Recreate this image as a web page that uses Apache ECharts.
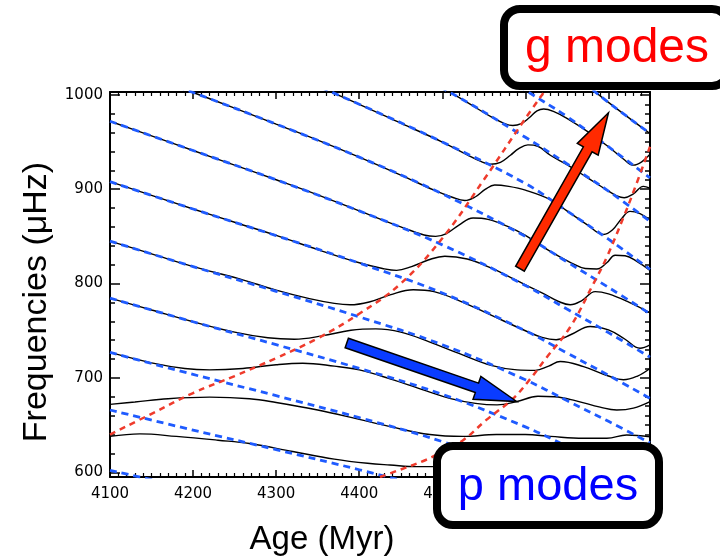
<!DOCTYPE html>
<html>
<head>
<meta charset="utf-8">
<script src="https://cdn.jsdelivr.net/npm/echarts@6/dist/echarts.min.js"></script>
<style>
  html, body { margin: 0; padding: 0; background: #fff; }
  #chart { width: 720px; height: 560px; }
</style>
</head>
<body>
<div id="chart"></div>
<script>
// pure p modes (blue dashed), frequency at each age of pAges
const pAges = [4100, 4200, 4300, 4400, 4500, 4600, 4650, 4700, 4750]
const pMode1 = [1284, 1243, 1203, 1162, 1117, 1060, 1027, 992, 959]
const pMode2 = [1222, 1183, 1145, 1106, 1063, 1005, 977, 945, 912]
const pMode3 = [1160, 1123, 1087, 1050, 1007, 955, 927, 898, 866]
const pMode4 = [1098, 1063, 1028, 990, 950, 906, 877, 847, 815]
const pMode5 = [1035.6, 1002.5, 969, 934, 895, 850, 823, 796, 768]
const pMode6 = [972, 941, 910, 877, 841, 798, 773, 748, 722]
const pMode7 = [908, 879, 850.8, 821.7, 790, 750, 726.4, 702.8, 678.3]
const pMode8 = [845, 818, 791.8, 764.7, 735.2, 698, 676, 654, 631.2]
const pMode9 = [784.6, 759.5, 735.2, 710.1, 682.6, 648.1, 627.7, 607.3, 586.1]
const pMode10 = [727, 703.7, 681.2, 657.9, 632.5, 600.5, 581.6, 562.7, 543.1]
const pMode11 = [666, 644.7, 624, 602.7, 579.4, 550.1, 532.8, 515.5, 497.5]
const pMode12 = [602, 582.7, 564.1, 544.8, 523.7, 497.3, 481.6, 465.9, 449.7]

// pure g modes (red dashed), [age, frequency]
const gMode1 = [[4100, 640], [4150, 662], [4200, 684], [4250, 702], [4300, 721], [4350, 742], [4400, 768],
  [4450, 800], [4500, 848], [4550, 910], [4600, 975], [4625, 1006]]
const gMode2 = [[4425, 595], [4450, 603], [4480, 613], [4500, 622], [4525, 634], [4553, 655.5], [4585, 678],
  [4605, 698], [4625, 721], [4654, 754], [4682, 800], [4698, 828], [4718, 870], [4730, 897], [4750, 945]]

// computed mixed modes (black), [age, frequency]
const mixedA = [[4650, 1027], [4700, 992], [4750, 959]]
const mixedB = [[4490, 1015], [4500, 1008], [4530, 992], [4560, 976], [4575, 969.5], [4585, 967.5], [4595, 969.5],
  [4605, 976], [4614, 983], [4622, 985], [4635, 982], [4650, 975], [4675, 961], [4700, 945], [4718, 932],
  [4730, 925.5], [4740, 929], [4750, 937]]
const mixedC = [[4350, 1009], [4400, 990], [4450, 970], [4500, 950], [4530, 936.5], [4545, 930], [4558, 926.5],
  [4570, 928.5], [4582, 936], [4592, 943], [4603, 947], [4615, 945.5], [4630, 936], [4650, 926], [4675, 912],
  [4700, 898], [4710, 893], [4719, 891], [4730, 895], [4742, 903], [4750, 901]]
const mixedD = [[4150, 1019], [4200, 1002.5], [4250, 986], [4300, 969], [4350, 952], [4400, 934], [4450, 915],
  [4490, 899], [4512, 891.5], [4527, 888], [4540, 892], [4552, 900], [4563, 904.5], [4580, 903], [4600, 899],
  [4630, 889], [4650, 877], [4675, 862], [4694, 852], [4705, 857], [4716, 869], [4726, 876.5], [4738, 874],
  [4750, 867]]
const mixedE = [[4100, 972], [4150, 956.5], [4200, 941], [4250, 925.5], [4300, 910], [4350, 894], [4400, 877],
  [4450, 860], [4478, 851.5], [4492, 850], [4505, 853], [4520, 862], [4537, 869.5], [4555, 868], [4580, 860],
  [4600, 851], [4630, 834], [4655, 822], [4672, 816], [4686, 815.5], [4698, 822], [4708, 830], [4720, 829.5],
  [4735, 823], [4750, 814]]
const mixedF = [[4100, 908], [4150, 893.5], [4200, 879], [4250, 865], [4300, 851], [4350, 836], [4400, 822],
  [4428, 816], [4445, 814], [4463, 818], [4483, 825], [4503, 829], [4530, 826], [4560, 816], [4590, 803],
  [4620, 790], [4640, 781], [4654, 777.5], [4668, 782], [4684, 791.5], [4700, 789], [4725, 780], [4750, 769]]
const mixedG = [[4100, 845], [4150, 831.5], [4200, 818], [4256, 805], [4300, 793], [4340, 784], [4370, 779],
  [4389, 777.5], [4412, 780.5], [4437, 788], [4465, 793.5], [4490, 791.5], [4520, 782], [4560, 766],
  [4600, 750], [4620, 743], [4637, 740.5], [4655, 746], [4678, 754.5], [4700, 751], [4720, 741],
  [4738, 731.5], [4750, 735]]
const mixedH = [[4100, 784.6], [4150, 772], [4200, 759.5], [4250, 748.5], [4290, 742.5], [4322, 741],
  [4355, 744.5], [4390, 750.5], [4420, 752], [4450, 748.5], [4485, 738], [4520, 726], [4560, 713],
  [4590, 708.5], [4612, 708], [4628, 712.5], [4642, 717.4], [4670, 712], [4700, 702], [4718, 698],
  [4735, 702], [4750, 710]]
const mixedI = [[4100, 727], [4150, 716], [4190, 710], [4220, 708.5], [4260, 710], [4300, 714], [4332, 715.6],
  [4370, 712.5], [4400, 708.5], [4437, 699], [4485, 685], [4510, 678], [4540, 673], [4566, 671.4],
  [4590, 675], [4615, 680.5], [4635, 680], [4660, 676], [4690, 669], [4710, 666], [4730, 668], [4750, 675]]
const mixedJ = [[4100, 672], [4130, 674.5], [4170, 678], [4220, 679.6], [4268, 678], [4300, 674], [4350, 666],
  [4400, 656], [4437, 648.4], [4485, 640], [4525, 638], [4565, 640], [4600, 640], [4630, 638], [4670, 636],
  [4698, 636], [4722, 639.5], [4750, 637.5]]
const mixedK = [[4100, 638], [4136, 640.7], [4180, 638], [4230, 634], [4268, 630.5], [4320, 622], [4370, 614],
  [4410, 609.5], [4437, 607.7], [4470, 606], [4500, 606]]

const yTicks = [600, 700, 800, 900, 1000]

// arrows, [age, frequency] of tail and tip
const pArrow = [[4385, 737], [4589.5, 675]]
const gArrow = [[4593.5, 815.7], [4700, 981]]

const pModes = [pMode1, pMode2, pMode3, pMode4, pMode5, pMode6, pMode7, pMode8, pMode9, pMode10, pMode11, pMode12]
const gModes = [gMode1, gMode2]
const mixedModes = [mixedA, mixedB, mixedC, mixedD, mixedE, mixedF, mixedG, mixedH, mixedI, mixedJ, mixedK]

const tickFont = { color: '#000', fontSize: 15, fontFamily: '"DejaVu Sans", sans-serif', formatter: (v) => String(v) }
const titleFont = '"Liberation Sans", Arial, sans-serif'

function lineSeries(data, color, width, dash, z) {
  return {
    type: 'line',
    data,
    z,
    smooth: 0.4,
    showSymbol: false,
    silent: true,
    lineStyle: { color, width, type: dash || 'solid' }
  }
}

function stepValues(step, skip) {
  const out = []
  for (let v = 600; v <= 1000; v += step) {
    if (!skip || v % 100 !== 0) out.push(v)
  }
  return out
}

function xAxis(position, showLabel) {
  return {
    type: 'value',
    position,
    min: 4100,
    max: 4750,
    interval: 100,
    axisLine: { onZero: false, lineStyle: { color: '#000', width: 2 } },
    axisTick: { inside: true, length: 7, lineStyle: { color: '#000', width: 1.5 } },
    minorTick: { show: true, splitNumber: 10, length: 4, lineStyle: { color: '#000', width: 1.2 } },
    axisLabel: { show: showLabel, margin: 10, showMaxLabel: false, ...tickFont },
    splitLine: { show: false }
  }
}

function yAxis(position, ticks, len, showLine, showLabel) {
  return {
    type: 'value',
    position,
    min: 595,
    max: 1003,
    axisLine: { show: showLine, onZero: false, lineStyle: { color: '#000', width: 2 } },
    axisTick: { inside: true, length: len, customValues: ticks, lineStyle: { color: '#000', width: 1.5 } },
    axisLabel: { show: showLabel, margin: 7, customValues: ticks, ...tickFont },
    splitLine: { show: false }
  }
}

const option = {
  animation: false,
  backgroundColor: '#fff',
  grid: { left: 110, right: 70, top: 92, bottom: 83 },
  xAxis: [xAxis('bottom', true), xAxis('top', false)],
  yAxis: [
    yAxis('left', yTicks, 10, true, true),
    yAxis('left', stepValues(20, true), 5, false, false),
    yAxis('right', yTicks, 10, true, false),
    yAxis('right', stepValues(10, true), 5, false, false)
  ],
  series: [
    ...mixedModes.map((d) => lineSeries(d, '#000', 1.4, null, 2)),
    ...pModes.map((f) => lineSeries(pAges.map((a, i) => [a, f[i]]), '#1f5bff', 2.8, [7, 5], 3)),
    ...gModes.map((d) => lineSeries(d, '#ef3b2c', 2.5, [6, 5], 4))
  ]
}

const chart = echarts.init(document.getElementById('chart'))
chart.setOption(option)

function arrowPoints(from, to) {
  const a = chart.convertToPixel({ seriesIndex: 0 }, from)
  const b = chart.convertToPixel({ seriesIndex: 0 }, to)
  const dx = b[0] - a[0]
  const dy = b[1] - a[1]
  const len = Math.hypot(dx, dy)
  const ux = dx / len, uy = dy / len
  const nx = -uy, ny = ux
  const shaft = 5, headW = 12, headL = 42
  const bx = b[0] - ux * headL, by = b[1] - uy * headL
  return [
    [a[0] + nx * shaft, a[1] + ny * shaft],
    [bx + nx * shaft, by + ny * shaft],
    [bx + nx * headW, by + ny * headW],
    b,
    [bx - nx * headW, by - ny * headW],
    [bx - nx * shaft, by - ny * shaft],
    [a[0] - nx * shaft, a[1] - ny * shaft]
  ]
}

function label(text, x, y, size, color, rotation) {
  return {
    type: 'text', x, y, rotation: rotation || 0, z: 101,
    style: {
      text, x: 0, y: 0, fill: color, fontSize: size, fontFamily: titleFont,
      align: 'center', verticalAlign: 'middle', textAlign: 'center', textVerticalAlign: 'middle'
    }
  }
}

chart.setOption({
  graphic: [
    { type: 'polygon', z: 100, shape: { points: arrowPoints(pArrow[0], pArrow[1]) },
      style: { fill: '#0a3cff', stroke: '#000', lineWidth: 1.5 } },
    { type: 'polygon', z: 100, shape: { points: arrowPoints(gArrow[0], gArrow[1]) },
      style: { fill: '#ff2a00', stroke: '#000', lineWidth: 1.5 } },
    { type: 'rect', z: 100, shape: { x: 437, y: 446, width: 222, height: 79, r: 16 },
      style: { fill: '#fff', stroke: '#000', lineWidth: 8 } },
    label('p modes', 548, 487, 47, '#0000ff'),
    { type: 'rect', z: 100, shape: { x: 504, y: 9, width: 224, height: 77, r: 16 },
      style: { fill: '#fff', stroke: '#000', lineWidth: 8 } },
    label('g modes', 617, 49, 48, '#ff0000'),
    label('Age (Myr)', 322, 540, 33, '#000'),
    label('Frequencies (\u03bcHz)', 37, 302, 34, '#000', Math.PI / 2)
  ]
})
</script>
</body>
</html>
